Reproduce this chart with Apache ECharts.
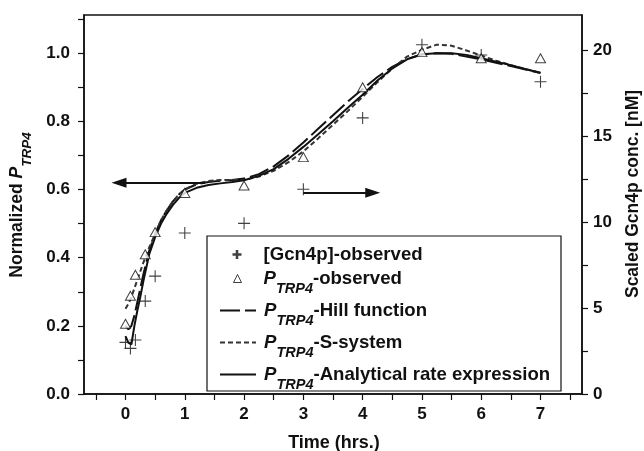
<!DOCTYPE html>
<html>
<head>
<meta charset="utf-8">
<script src="https://cdn.jsdelivr.net/npm/echarts@6/dist/echarts.min.js"></script>
<style>html,body{margin:0;padding:0;background:#fff}#c{width:644px;height:451px}</style>
</head>
<body>
<div id="c"></div>
<script>
// ---- data ----
const timesObs = [0, 0.083, 0.167, 0.333, 0.5, 1, 2, 3, 4, 5, 6, 7];
const trp4Observed = [0.206, 0.288, 0.35, 0.41, 0.475, 0.59, 0.612, 0.695, 0.90, 1.003, 0.985, 0.985];
const gcn4Observed = [3.0, 2.65, 3.14, 5.4, 6.85, 9.36, 9.92, 11.9, 16.05, 20.3, 19.7, 18.15];

const timesModel = [0, 0.05, 0.1, 0.15, 0.2, 0.25, 0.3, 0.4, 0.5, 0.6, 0.7, 0.8, 0.9, 1.0, 1.2, 1.4, 1.6, 1.8, 2.0, 2.25, 2.5, 2.75, 3.0, 3.25, 3.5, 3.75, 4.0, 4.25, 4.5, 4.75, 5.0, 5.25, 5.5, 5.75, 6.0, 6.25, 6.5, 6.75, 7.0];
const hillFit = [0.2, 0.19, 0.2, 0.23, 0.27, 0.31, 0.35, 0.42, 0.47, 0.51, 0.54, 0.565, 0.585, 0.6, 0.615, 0.622, 0.626, 0.628, 0.632, 0.645, 0.668, 0.70, 0.738, 0.778, 0.818, 0.858, 0.895, 0.93, 0.96, 0.983, 0.996, 1.0, 0.998, 0.99, 0.982, 0.972, 0.962, 0.952, 0.942];
const sSystemFit = [0.25, 0.265, 0.285, 0.31, 0.335, 0.36, 0.385, 0.43, 0.47, 0.51, 0.54, 0.565, 0.585, 0.6, 0.617, 0.625, 0.628, 0.628, 0.628, 0.638, 0.655, 0.68, 0.712, 0.75, 0.79, 0.83, 0.872, 0.915, 0.955, 0.99, 1.01, 1.025, 1.022, 1.008, 0.993, 0.978, 0.965, 0.953, 0.942];
const analyticalFit = [0.17, 0.15, 0.146, 0.2, 0.245, 0.285, 0.33, 0.41, 0.46, 0.5, 0.53, 0.555, 0.575, 0.59, 0.605, 0.613, 0.618, 0.622, 0.627, 0.64, 0.66, 0.69, 0.725, 0.762, 0.80, 0.84, 0.878, 0.92, 0.955, 0.982, 0.997, 1.0, 1.0, 0.995, 0.985, 0.975, 0.965, 0.953, 0.943];

const xTickValues = [-0.5, 0, 0.5, 1, 1.5, 2, 2.5, 3, 3.5, 4, 4.5, 5, 5.5, 6, 6.5, 7, 7.5];
const xLabelValues = [0, 1, 2, 3, 4, 5, 6, 7];
const yLeftTickValues = [0, 0.1, 0.2, 0.3, 0.4, 0.5, 0.6, 0.7, 0.8, 0.9, 1.0, 1.1];
const yLeftLabelValues = [0, 0.2, 0.4, 0.6, 0.8, 1.0];
const yRightTickValues = [0, 2.5, 5, 7.5, 10, 12.5, 15, 17.5, 20];
const yRightLabelValues = [0, 5, 10, 15, 20];

const leftArrow = [[1.34, 0.62], [-0.11, 0.62]];
const rightArrow = [[3.0, 11.7], [4.17, 11.7]];

// ---- helpers ----
const zip = (xs, ys) => xs.map((x, i) => [x, ys[i]]);
const FONT = '"Liberation Sans", Arial, Helvetica, sans-serif';
const INK = '#111';
const plusThin = 'path://M4.55,0 L5.45,0 L5.45,4.55 L10,4.55 L10,5.45 L5.45,5.45 L5.45,10 L4.55,10 L4.55,5.45 L0,5.45 L0,4.55 L4.55,4.55 Z';
const plusBold = 'path://M3.6,0 L6.4,0 L6.4,3.6 L10,3.6 L10,6.4 L6.4,6.4 L6.4,10 L3.6,10 L3.6,6.4 L0,6.4 L0,3.6 L3.6,3.6 Z';

const N_GCN = '[Gcn4p]-observed';
const N_OBS = 'PTRP4-observed';
const N_HILL = 'PTRP4-Hill function';
const N_SS = 'PTRP4-S-system';
const N_AN = 'PTRP4-Analytical rate expression';
const legendRich = {
  [N_GCN]: '{g16| }{n|[Gcn4p]-observed}',
  [N_OBS]: '{g16| }{p|P}{s|TRP4}{n|-observed}',
  [N_HILL]: '{g3| }{p|P}{s|TRP4}{n|-Hill function}',
  [N_SS]: '{g3| }{p|P}{s|TRP4}{n|-S-system}',
  [N_AN]: '{g3| }{p|P}{s|TRP4}{n|-Analytical rate expression}'
};
const rich = {
  g16: {width: 17, fontSize: 18, lineHeight: 36},
  g3: {width: 3, fontSize: 18, lineHeight: 36},
  n: {fontFamily: FONT, fontSize: 18.6, fontWeight: 'bold', color: INK, lineHeight: 36, verticalAlign: 'middle'},
  p: {fontFamily: FONT, fontSize: 18.6, fontWeight: 'bold', fontStyle: 'italic', color: INK, lineHeight: 36, verticalAlign: 'middle'},
  s: {fontFamily: FONT, fontSize: 14.5, fontWeight: 'bold', fontStyle: 'italic', color: INK, lineHeight: 14, verticalAlign: 'bottom'}
};
function mkLegend(item, top, left, itemWidth, itemHeight, hideSymbol) {
  const l = {
    data: [item], left: left, top: top, padding: 0,
    itemWidth: itemWidth, itemHeight: itemHeight, selectedMode: false,
    formatter: name => legendRich[name],
    textStyle: {fontFamily: FONT, fontSize: 18, fontWeight: 'bold', color: INK, rich: rich}
  };
  if (hideSymbol) l.itemStyle = {color: 'rgba(0,0,0,0)', borderWidth: 0, borderColor: 'rgba(0,0,0,0)'};
  return l;
}

const chart = echarts.init(document.getElementById('c'), null, {renderer: 'canvas'});
const axisLabelStyle = {fontFamily: FONT, fontSize: 17, fontWeight: 'bold', color: INK};

chart.setOption({
  animation: false,
  backgroundColor: '#fff',
  grid: {left: 84, right: 62, top: 15, bottom: 57, show: true, borderColor: INK, borderWidth: 1.5, backgroundColor: 'transparent'},
  xAxis: {
    type: 'value', min: -0.7, max: 7.7,
    axisLine: {onZero: false, lineStyle: {color: INK, width: 1.5}},
    axisTick: {show: true, length: 6, inside: false, lineStyle: {color: INK, width: 1.2}, customValues: xTickValues},
    axisLabel: Object.assign({margin: 12, customValues: xLabelValues}, axisLabelStyle),
    splitLine: {show: false}
  },
  yAxis: [{
    type: 'value', min: 0, max: 1.112, position: 'left',
    axisLine: {show: true, onZero: false, lineStyle: {color: INK, width: 1.5}},
    axisTick: {show: true, length: 6, lineStyle: {color: INK, width: 1.2}, customValues: yLeftTickValues},
    axisLabel: Object.assign({margin: 14, customValues: yLeftLabelValues, formatter: v => v.toFixed(1)}, axisLabelStyle),
    splitLine: {show: false}
  }, {
    type: 'value', min: 0, max: 22.03, position: 'right',
    axisLine: {show: true, onZero: false, lineStyle: {color: INK, width: 1.5}},
    axisTick: {show: true, length: 6, lineStyle: {color: INK, width: 1.2}, customValues: yRightTickValues},
    axisLabel: Object.assign({margin: 11, customValues: yRightLabelValues}, axisLabelStyle),
    splitLine: {show: false}
  }],
  legend: [
    mkLegend({name: N_GCN, icon: plusBold, itemStyle: {color: INK}}, 245, 232.5, 9, 9, false),
    mkLegend({name: N_OBS, icon: 'triangle', itemStyle: {color: '#fff', borderColor: INK, borderWidth: 1}}, 269, 233, 8, 8, false),
    mkLegend({name: N_HILL}, 301, 219, 36, 10, true),
    mkLegend({name: N_SS}, 333, 219, 36, 10, true),
    mkLegend({name: N_AN}, 365, 219, 36, 10, true)
  ],
  graphic: [
    {type: 'rect', z: 0, shape: {x: 207, y: 236, width: 354, height: 155}, style: {fill: '#fff', stroke: INK, lineWidth: 1.2}},
    {type: 'text', z: 10, x: 17, y: 205, rotation: Math.PI / 2,
     style: {text: '{m|Normalized }{p|P}{s|TRP4}', align: 'center', verticalAlign: 'middle',
       rich: {
         m: {fontFamily: FONT, fontSize: 17.5, fontWeight: 'bold', fill: INK, lineHeight: 34, verticalAlign: 'middle'},
         p: {fontFamily: FONT, fontSize: 17.5, fontWeight: 'bold', fontStyle: 'italic', fill: INK, lineHeight: 34, verticalAlign: 'middle'},
         s: {fontFamily: FONT, fontSize: 13.5, fontWeight: 'bold', fontStyle: 'italic', fill: INK, lineHeight: 13, verticalAlign: 'bottom'}
       }}},
    {type: 'text', z: 10, x: 633, y: 194, rotation: Math.PI / 2,
     style: {text: 'Scaled Gcn4p conc. [nM]', align: 'center', verticalAlign: 'middle', fontFamily: FONT, fontSize: 17.5, fontWeight: 'bold', fill: INK}},
    {type: 'text', z: 10, x: 334, y: 443,
     style: {text: 'Time (hrs.)', align: 'center', verticalAlign: 'middle', fontFamily: FONT, fontSize: 18, fontWeight: 'bold', fill: INK}}
  ],
  series: [
    {
      name: N_GCN, type: 'scatter', yAxisIndex: 1, z: 5,
      symbol: plusThin, symbolSize: 12,
      itemStyle: {color: INK},
      data: zip(timesObs, gcn4Observed),
      markLine: {
        silent: true, symbol: ['none', 'triangle'], symbolSize: [10, 15],
        label: {show: false}, lineStyle: {color: INK, width: 2, type: 'solid'},
        data: [[{coord: rightArrow[0]}, {coord: rightArrow[1]}]]
      }
    },
    {
      name: N_OBS, type: 'scatter', z: 6,
      symbol: 'triangle', symbolSize: [10, 9],
      itemStyle: {color: '#fff', borderColor: INK, borderWidth: 1},
      data: zip(timesObs, trp4Observed)
    },
    {
      name: N_HILL, type: 'line', showSymbol: false, symbol: 'none', z: 3,
      lineStyle: {color: INK, width: 2, type: [20, 5]},
      itemStyle: {color: INK},
      data: zip(timesModel, hillFit)
    },
    {
      name: N_SS, type: 'line', showSymbol: false, symbol: 'none', z: 3,
      lineStyle: {color: '#333', width: 2, type: [5, 3]},
      itemStyle: {color: '#333'},
      data: zip(timesModel, sSystemFit)
    },
    {
      name: N_AN, type: 'line', showSymbol: false, symbol: 'none', z: 4,
      lineStyle: {color: INK, width: 2},
      itemStyle: {color: INK},
      data: zip(timesModel, analyticalFit),
      markLine: {
        silent: true, symbol: ['none', 'triangle'], symbolSize: [10, 15],
        label: {show: false}, lineStyle: {color: INK, width: 2, type: 'solid'},
        data: [[{coord: leftArrow[0]}, {coord: leftArrow[1]}]]
      }
    }
  ]
});
</script>
</body>
</html>
